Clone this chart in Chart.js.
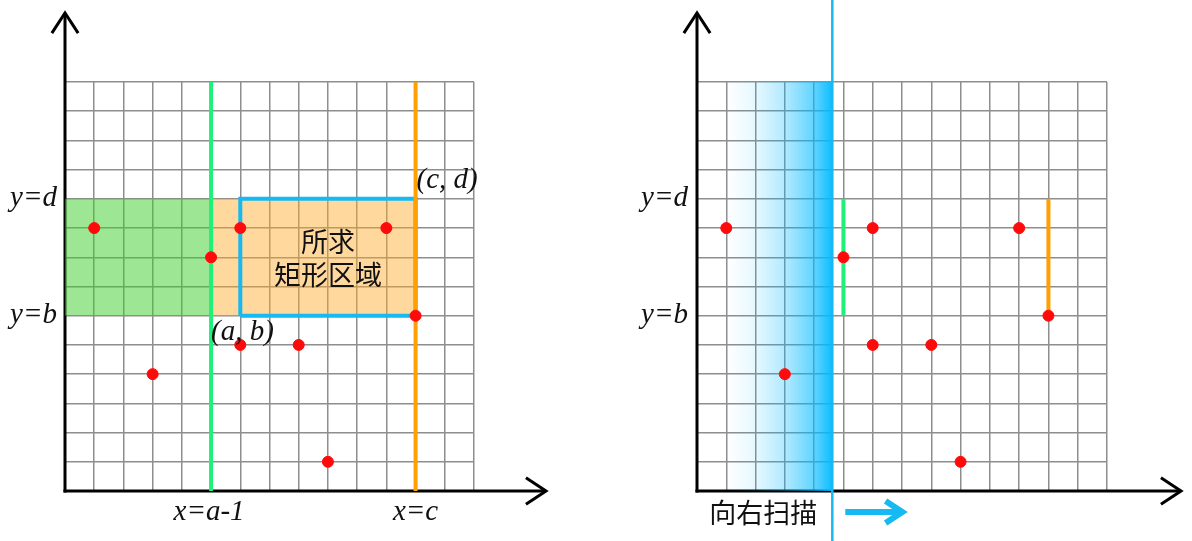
<!DOCTYPE html>
<html lang="zh">
<head>
    <meta charset="UTF-8">
    <title>二维前缀和 扫描</title>
    <script src="https://cdn.jsdelivr.net/npm/chart.js"></script>
    <style>
        body {
            margin: 0;
            padding: 0;
            background: #fff;
            width: 1192px;
            height: 541px;
            overflow: hidden;
            position: relative;
        }

        .panel {
            position: absolute;
            top: 0;
            width: 596px;
            height: 541px;
        }

        #panelLeft { left: 0; }
        #panelRight { left: 596px; }
    </style>
</head>
<body>
    <div id="panelLeft" class="panel"><canvas id="graficoRetangulo" width="596" height="541"></canvas></div>
    <div id="panelRight" class="panel"><canvas id="graficoVarredura" width="596" height="541"></canvas></div>

    <script>
        // grid 0..14 on both axes
        var gridMax = 14;

        // red points (same in both panels)
        var pontosX = [1, 6, 11, 5, 12, 6, 8, 3, 9];
        var pontosY = [9, 9, 9, 8, 6, 5, 5, 4, 1];

        // rectangle corners (a, b) - (c, d)
        var a = 6, b = 6, c = 12, d = 10;

        // position of the scan line in the right panel
        var linhaVarredura = 4.62;
        var inicioGradiente = 1;

        var rotuloTopo = 'y=d';
        var rotuloBase = 'y=b';
        var rotuloCD = '(c, d)';
        var rotuloAB = '(a, b)';
        var rotuloXa = 'x=a-1';
        var rotuloXc = 'x=c';
        var textoRegiao = ['所求', '矩形区域'];
        var textoVarredura = '向右扫描';

        var corGrade = '#8e8e8e';
        var corAzul = '#17b9f2';
        var corVerde = '#1ff07a';
        var corLaranja = '#ff9f00';
        var fonteItalica = 'italic 29px "Liberation Serif", serif';
        var fonteCJK = '27px "Noto Sans CJK SC", sans-serif';

        var pontos = pontosX.map(function(x, i) { return { x: x, y: pontosY[i] }; });

        function escalas() {
            var eixo = {
                type: 'linear',
                min: 0,
                max: gridMax,
                ticks: { display: false, stepSize: 1 },
                border: { display: false },
                grid: { color: corGrade, lineWidth: 1.5, drawTicks: false }
            };
            return { x: Object.assign({}, eixo), y: Object.assign({}, eixo, { grid: Object.assign({}, eixo.grid) }) };
        }

        function seta(ctx, x1, y1, x2, y2, cor, largura, ponta) {
            var ang = Math.atan2(y2 - y1, x2 - x1);
            ctx.save();
            ctx.strokeStyle = cor;
            ctx.lineWidth = largura;
            ctx.lineCap = 'butt';
            ctx.beginPath();
            ctx.moveTo(x1, y1);
            ctx.lineTo(x2, y2);
            ctx.stroke();
            ctx.lineJoin = 'miter';
            ctx.beginPath();
            ctx.moveTo(x2 - ponta * Math.cos(ang - 0.58), y2 - ponta * Math.sin(ang - 0.58));
            ctx.lineTo(x2, y2);
            ctx.lineTo(x2 - ponta * Math.cos(ang + 0.58), y2 - ponta * Math.sin(ang + 0.58));
            ctx.stroke();
            ctx.restore();
        }

        // black axes with arrow heads, drawn under the datasets
        var pluginEixos = {
            id: 'eixos',
            beforeDatasetsDraw: function(chart, args, opts) {
                var ctx = chart.ctx;
                var x0 = chart.scales.x.getPixelForValue(0);
                var y0 = chart.scales.y.getPixelForValue(0);
                seta(ctx, x0, y0 + 1.5, x0, 13, '#000', 3, 24);
                seta(ctx, x0 - 1.5, y0, opts.fimX, y0, '#000', 3, 24);
            }
        };

        function texto(ctx, s, x, y, fonte, alinhar) {
            ctx.save();
            ctx.font = fonte;
            ctx.fillStyle = '#111';
            ctx.textAlign = alinhar;
            ctx.textBaseline = 'middle';
            ctx.fillText(s, x, y);
            ctx.restore();
        }

        var pluginRotulosEsq = {
            id: 'rotulosEsq',
            afterDatasetsDraw: function(chart) {
                var ctx = chart.ctx, sx = chart.scales.x, sy = chart.scales.y;
                var esq = sx.getPixelForValue(0);
                texto(ctx, rotuloTopo, esq - 8, sy.getPixelForValue(d), fonteItalica, 'right');
                texto(ctx, rotuloBase, esq - 8, sy.getPixelForValue(b), fonteItalica, 'right');
                texto(ctx, rotuloCD, sx.getPixelForValue(c) + 1, sy.getPixelForValue(d) - 18, fonteItalica, 'left');
                texto(ctx, rotuloAB, sx.getPixelForValue(a - 1) + 0, sy.getPixelForValue(b) + 17, fonteItalica, 'left');
                texto(ctx, rotuloXa, sx.getPixelForValue(a - 1) - 2, sy.getPixelForValue(0) + 21, fonteItalica, 'center');
                texto(ctx, rotuloXc, sx.getPixelForValue(c), sy.getPixelForValue(0) + 21, fonteItalica, 'center');
                var cx = sx.getPixelForValue((a + c) / 2);
                var cy = sy.getPixelForValue((b + d) / 2);
                texto(ctx, textoRegiao[0], cx, cy - 16, fonteCJK, 'center');
                texto(ctx, textoRegiao[1], cx, cy + 17, fonteCJK, 'center');
            }
        };

        var pluginRotulosDir = {
            id: 'rotulosDir',
            afterDatasetsDraw: function(chart) {
                var ctx = chart.ctx, sx = chart.scales.x, sy = chart.scales.y;
                var esq = sx.getPixelForValue(0);
                texto(ctx, rotuloTopo, esq - 9, sy.getPixelForValue(d), fonteItalica, 'right');
                texto(ctx, rotuloBase, esq - 9, sy.getPixelForValue(b), fonteItalica, 'right');

                // scan line crosses the whole picture
                var px = sx.getPixelForValue(linhaVarredura);
                ctx.save();
                ctx.strokeStyle = corAzul;
                ctx.lineWidth = 2.5;
                ctx.beginPath();
                ctx.moveTo(px, 0);
                ctx.lineTo(px, chart.height);
                ctx.stroke();
                ctx.restore();

                var yTexto = sy.getPixelForValue(0) + 22;
                texto(ctx, textoVarredura, px - 15, yTexto, fonteCJK, 'right');
                seta(ctx, px + 13, yTexto - 1, px + 70, yTexto - 1, corAzul, 6, 20);
            }
        };

        function gradienteVarredura(context) {
            var chart = context.chart;
            if (!chart.chartArea) return 'rgba(0,186,255,0.5)';
            var x1 = chart.scales.x.getPixelForValue(inicioGradiente);
            var x2 = chart.scales.x.getPixelForValue(linhaVarredura);
            var g = chart.ctx.createLinearGradient(x1, 0, x2, 0);
            g.addColorStop(0, 'rgba(0,186,255,0)');
            g.addColorStop(0.28, 'rgba(0,186,255,0.1)');
            g.addColorStop(0.55, 'rgba(0,186,255,0.3)');
            g.addColorStop(0.83, 'rgba(0,186,255,0.62)');
            g.addColorStop(1, 'rgba(0,186,255,0.95)');
            return g;
        }

        var estiloLinha = { showLine: true, pointRadius: 0, pointHoverRadius: 0, fill: false };

        var estiloPontos = {
            label: 'pontos',
            data: pontos,
            backgroundColor: '#ff0a0a',
            borderColor: '#ff0a0a',
            pointRadius: 5.5,
            pointHoverRadius: 5.5,
            showLine: false
        };

        var graficoRetangulo = new Chart(document.getElementById('graficoRetangulo').getContext('2d'), {
            type: 'scatter',
            data: {
                datasets: [
                    estiloPontos,
                    Object.assign({}, estiloLinha, {
                        label: 'x=c',
                        data: [{ x: c, y: 0 }, { x: c, y: gridMax }],
                        borderColor: corLaranja,
                        borderWidth: 4
                    }),
                    Object.assign({}, estiloLinha, {
                        label: 'x=a-1',
                        data: [{ x: a - 1, y: 0 }, { x: a - 1, y: gridMax }],
                        borderColor: corVerde,
                        borderWidth: 4
                    }),
                    Object.assign({}, estiloLinha, {
                        label: 'retangulo',
                        data: [{ x: a, y: b }, { x: a, y: d }, { x: c, y: d }, { x: c, y: b }, { x: a, y: b }],
                        borderColor: corAzul,
                        borderWidth: 4,
                        borderJoinStyle: 'miter'
                    }),
                    Object.assign({}, estiloLinha, {
                        label: 'laranja',
                        data: [{ x: a - 1, y: d }, { x: c, y: d }],
                        borderWidth: 0,
                        borderColor: 'rgba(0,0,0,0)',
                        backgroundColor: 'rgba(255,168,40,0.45)',
                        fill: { value: b }
                    }),
                    Object.assign({}, estiloLinha, {
                        label: 'verde',
                        data: [{ x: 0, y: d }, { x: a - 1, y: d }],
                        borderWidth: 0,
                        borderColor: 'rgba(0,0,0,0)',
                        backgroundColor: 'rgba(60,205,40,0.5)',
                        fill: { value: b }
                    })
                ]
            },
            options: {
                responsive: false,
                animation: false,
                layout: { padding: { left: 65, right: 122, top: 82, bottom: 50 } },
                scales: escalas(),
                plugins: {
                    legend: { display: false },
                    tooltip: { enabled: false },
                    eixos: { fimX: 546 }
                }
            },
            plugins: [pluginEixos, pluginRotulosEsq]
        });

        var graficoVarredura = new Chart(document.getElementById('graficoVarredura').getContext('2d'), {
            type: 'scatter',
            data: {
                datasets: [
                    estiloPontos,
                    Object.assign({}, estiloLinha, {
                        label: 'segmento c',
                        data: [{ x: c, y: b }, { x: c, y: d }],
                        borderColor: corLaranja,
                        borderWidth: 4
                    }),
                    Object.assign({}, estiloLinha, {
                        label: 'segmento a-1',
                        data: [{ x: a - 1, y: b }, { x: a - 1, y: d }],
                        borderColor: corVerde,
                        borderWidth: 4
                    }),
                    Object.assign({}, estiloLinha, {
                        label: 'varredura',
                        data: [{ x: inicioGradiente, y: gridMax }, { x: linhaVarredura, y: gridMax }],
                        borderWidth: 0,
                        borderColor: 'rgba(0,0,0,0)',
                        backgroundColor: gradienteVarredura,
                        fill: { value: 0 }
                    })
                ]
            },
            options: {
                responsive: false,
                animation: false,
                layout: { padding: { left: 101, right: 85, top: 82, bottom: 50 } },
                scales: escalas(),
                plugins: {
                    legend: { display: false },
                    tooltip: { enabled: false },
                    eixos: { fimX: 585 }
                }
            },
            plugins: [pluginEixos, pluginRotulosDir]
        });
    </script>
</body>
</html>
